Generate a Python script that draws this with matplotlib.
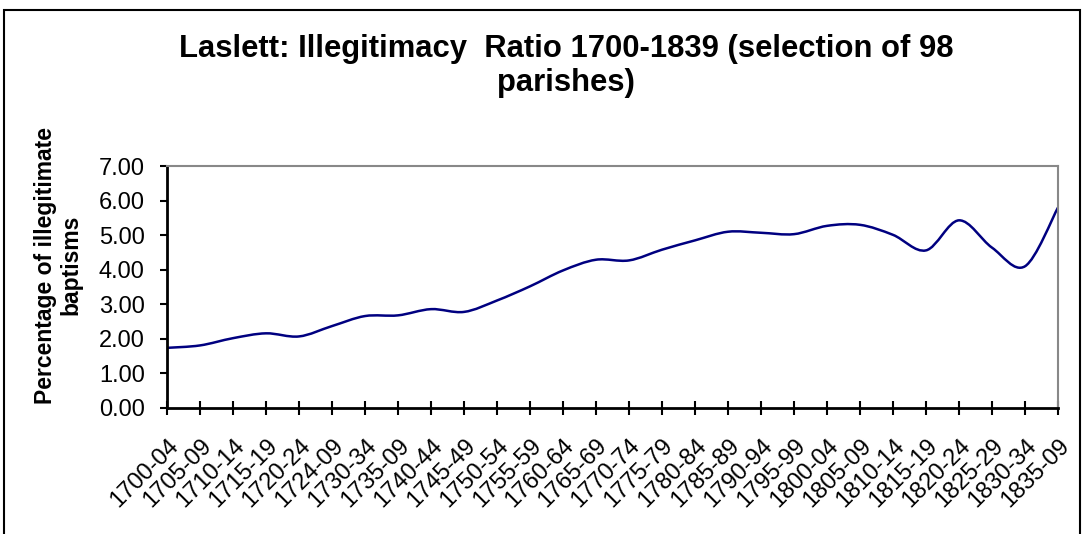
import matplotlib
matplotlib.use("Agg")
import matplotlib.pyplot as plt
from matplotlib.path import Path
from matplotlib.patches import PathPatch, Rectangle
import numpy as np

plt.rcParams['font.family'] = ['Liberation Sans', 'DejaVu Sans']

periods = ["1700-04", "1705-09", "1710-14", "1715-19", "1720-24", "1724-09", "1730-34",
           "1735-09", "1740-44", "1745-49", "1750-54", "1755-59", "1760-64", "1765-69",
           "1770-74", "1775-79", "1780-84", "1785-89", "1790-94", "1795-99", "1800-04",
           "1805-09", "1810-14", "1815-19", "1820-24", "1825-29", "1830-34", "1835-09"]
ratio = [1.74, 1.81, 2.02, 2.16, 2.07, 2.37, 2.66, 2.68, 2.86, 2.78, 3.11, 3.52, 3.98, 4.29,
         4.27, 4.58, 4.85, 5.10, 5.07, 5.03, 5.27, 5.30, 5.01, 4.56, 5.43, 4.64, 4.10, 5.80]
yticks = [0, 1, 2, 3, 4, 5, 6, 7]

fig = plt.figure(figsize=(10.83, 5.34), dpi=100)
ax = fig.add_axes([0.1542, 0.236, 0.8227, 0.453])

x = np.arange(len(ratio))
y = np.array(ratio, dtype=float)

# Smoothed line (Bezier path through the data points, like a spreadsheet "smoothed line")
verts = [(x[0], y[0])]
codes = [Path.MOVETO]
t = 1.0 / 6.0
n = len(x)
for i in range(n - 1):
    p0 = (x[i - 1], y[i - 1]) if i > 0 else (x[i], y[i])
    p1 = (x[i], y[i])
    p2 = (x[i + 1], y[i + 1])
    p3 = (x[i + 2], y[i + 2]) if i + 2 < n else (x[i + 1], y[i + 1])
    c1 = (p1[0] + (p2[0] - p0[0]) * t, p1[1] + (p2[1] - p0[1]) * t)
    c2 = (p2[0] - (p3[0] - p1[0]) * t, p2[1] - (p3[1] - p1[1]) * t)
    verts += [c1, c2, p2]
    codes += [Path.CURVE4] * 3
ax.add_patch(PathPatch(Path(verts, codes), facecolor='none', edgecolor='#000080', lw=1.8))
ax.plot(x, y, alpha=0)

ax.set_xlim(0, n - 1)
ax.set_ylim(0, 7)
ax.set_yticks(yticks)
ax.set_yticklabels([f"{v:.2f}" for v in yticks], fontsize=17)
ax.set_xticks(x)
ax.set_xticklabels(periods, rotation=45, ha='right', va='top', rotation_mode='anchor', fontsize=17)

ax.tick_params(axis='y', direction='out', length=5, width=1.5, pad=11)
ax.tick_params(axis='x', direction='inout', length=10, width=1.5, pad=14)

for s in ['left', 'bottom']:
    ax.spines[s].set_color('black')
    ax.spines[s].set_linewidth(2)
for s in ['top', 'right']:
    ax.spines[s].set_color('#888888')
    ax.spines[s].set_linewidth(1.5)

ax.set_ylabel("Percentage of illegitimate\nbaptisms", fontsize=16.5, fontweight='bold',
              linespacing=1.1)
ax.yaxis.set_label_coords(-0.0954, 0.59)

fig.text(0.5226, 0.937, "Laslett: Illegitimacy  Ratio 1700-1839 (selection of 98\nparishes)",
         ha='center', va='top', fontsize=22.3, fontweight='bold', linespacing=1.2)

fig.patches.append(Rectangle((0.004, -0.05), 0.993, 1.031, transform=fig.transFigure,
                             fill=False, edgecolor='black', lw=1.5))

fig.savefig("out.png", dpi=100)
